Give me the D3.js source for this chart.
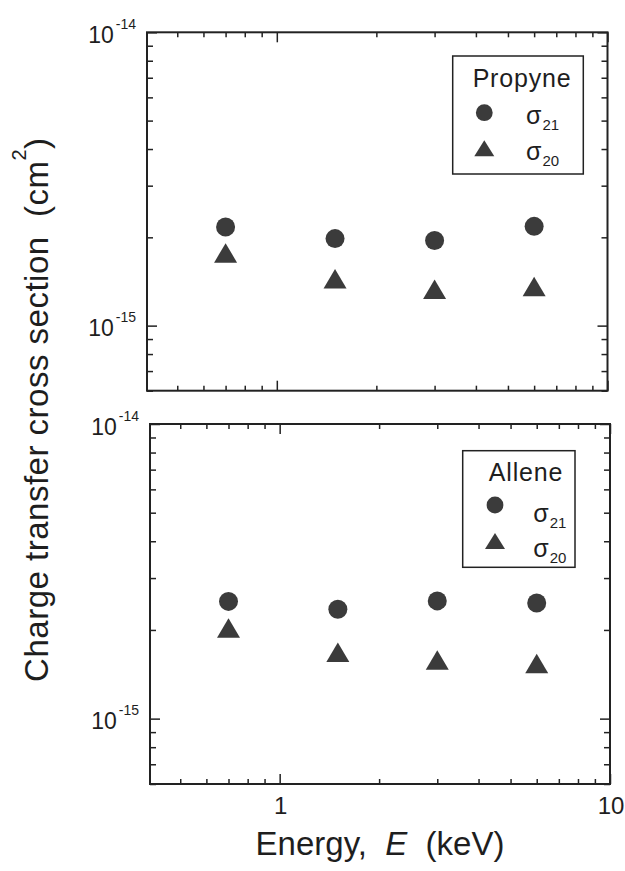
<!DOCTYPE html>
<html><head><meta charset="utf-8">
<script src="https://cdn.jsdelivr.net/npm/d3@7"></script>
<style>
body{margin:0;background:#fff}
text{font-family:"Liberation Sans",Arial,sans-serif;fill:#1e1e1e}
</style>
</head><body>
<svg id="chart" width="625" height="871"></svg>
<script>
// ---- data ----
const energy = [0.7, 1.5, 3, 6];
const gases = ["Propyne", "Allene"];
const sigma21 = [
  [2.17e-15, 1.98e-15, 1.95e-15, 2.18e-15],
  [2.50e-15, 2.35e-15, 2.51e-15, 2.47e-15]
];
const sigma20 = [
  [1.77e-15, 1.445e-15, 1.33e-15, 1.36e-15],
  [2.03e-15, 1.68e-15, 1.58e-15, 1.54e-15]
];
const seriesSubs = ["21", "20"];
const xDomain = [0.405, 10];
const yDomain = [6e-16, 1e-14];
const xMajor = [1, 10];
const xMinor = [0.5, 0.6, 0.7, 0.8, 0.9, 2, 3, 4, 5, 6, 7, 8, 9];
const xTickLabels = ["1", "10"];
const yMajor = [1e-15, 1e-14];
const yMinor = [6e-16, 7e-16, 8e-16, 9e-16, 2e-15, 3e-15, 4e-15, 5e-15, 6e-15, 7e-15, 8e-15, 9e-15];
const yTitle = ["Charge transfer cross section  (cm", "2", ")"];
const xTitle = ["Energy,  ", "E", "  (keV)"];

// ---- layout ----
const panels = [
  {l:147, r:607.5, t:32.3, b:390.7,
   leg:{x:452.7, y:56, w:130.6, h:118, tx:69.3, ty:31.3, mx:31.6, c1:56.7, c2:92.3, sx:73.3, s1:68, s2:104}},
  {l:150, r:610, t:424, b:784,
   leg:{x:462.7, y:450.7, w:112.3, h:116.6, tx:63.3, ty:30, mx:32.3, c1:54.3, c2:90.3, sx:70.6, s1:71, s2:106}}
];
const ink = "#222", markFill = "#3b3b3b";
const tri = (w, h) => `M0,${-h/2}L${w/2},${h/2}L${-w/2},${h/2}Z`;

const svg = d3.select("#chart");

panels.forEach((p, i) => {
  const x = d3.scaleLog().domain(xDomain).range([p.l, p.r]);
  const y = d3.scaleLog().domain(yDomain).range([p.b, p.t]);
  const g = svg.append("g");

  const styleAxis = sel => {
    sel.select(".domain").remove();
    sel.selectAll(".tick line").attr("stroke", ink).attr("stroke-width", 1.5);
    sel.selectAll(".tick text").remove();
  };
  const axes = [
    [d3.axisBottom, `translate(0,${p.b})`, x],
    [d3.axisTop, `translate(0,${p.t})`, x],
    [d3.axisLeft, `translate(${p.l},0)`, y],
    [d3.axisRight, `translate(${p.r},0)`, y]
  ];
  axes.forEach(([fn, tr, sc]) => {
    const isX = sc === x;
    g.append("g").attr("transform", tr)
      .call(fn(sc).tickValues(isX ? xMajor : yMajor).tickSize(-10).tickFormat(""))
      .call(styleAxis);
    g.append("g").attr("transform", tr)
      .call(fn(sc).tickValues(isX ? xMinor : yMinor).tickSize(isX ? -5 : -6).tickFormat(""))
      .call(styleAxis);
  });

  // frame
  g.append("rect").attr("x", p.l).attr("y", p.t)
    .attr("width", p.r - p.l).attr("height", p.b - p.t)
    .attr("fill", "none").attr("stroke", ink).attr("stroke-width", 2);

  // y tick labels
  yMajor.forEach(v => {
    const t = g.append("text").attr("x", p.l - 11).attr("y", y(v) + 10.5)
      .attr("text-anchor", "end").style("font-size", "23px");
    t.append("tspan").text("10");
    t.append("tspan").attr("dx", 2).attr("dy", -14).style("font-size", "14px")
      .text(String(Math.round(Math.log10(v))));
  });

  // x tick labels (bottom panel only)
  if (i === panels.length - 1) {
    xMajor.forEach((v, k) => {
      g.append("text").attr("x", x(v) + 1).attr("y", p.b + 29.5)
        .attr("text-anchor", "middle").style("font-size", "24px").text(xTickLabels[k]);
    });
  }

  // data
  g.selectAll(".c21").data(energy.map((e, k) => [e, sigma21[i][k]]))
    .join("circle").attr("cx", d => x(d[0])).attr("cy", d => y(d[1]))
    .attr("r", 9.5).attr("fill", markFill);
  g.selectAll(".t20").data(energy.map((e, k) => [e, sigma20[i][k]]))
    .join("path").attr("d", tri(23, 19.5))
    .attr("transform", d => `translate(${x(d[0])},${y(d[1])})`).attr("fill", markFill);

  // legend
  const L = p.leg;
  const lg = g.append("g").attr("transform", `translate(${L.x},${L.y})`);
  lg.append("rect").attr("width", L.w).attr("height", L.h)
    .attr("fill", "#fff").attr("stroke", ink).attr("stroke-width", 1.5);
  lg.append("text").attr("x", L.tx).attr("y", L.ty).attr("text-anchor", "middle")
    .style("font-size", "25px").style("letter-spacing", "0.8px").text(gases[i]);
  lg.append("circle").attr("cx", L.mx).attr("cy", L.c1).attr("r", 8.4).attr("fill", markFill);
  lg.append("path").attr("d", tri(20, 16))
    .attr("transform", `translate(${L.mx},${L.c2})`).attr("fill", markFill);
  [L.s1, L.s2].forEach((sy, k) => {
    const t = lg.append("text").attr("x", L.sx).attr("y", sy).style("font-size", "25px");
    t.append("tspan").text("\u03C3");
    t.append("tspan").attr("dx", 1).attr("dy", 6).style("font-size", "15px").text(seriesSubs[k]);
  });
});

// y title
const yt = svg.append("text")
  .attr("transform", `translate(48.3,${(panels[0].t + panels[1].b) / 2 + 1.5}) rotate(-90)`)
  .attr("text-anchor", "middle").attr("xml:space", "preserve").style("white-space", "pre")
  .style("font-size", "33px").style("letter-spacing", "0.5px");
yt.append("tspan").text(yTitle[0]);
yt.append("tspan").attr("dy", -22).style("font-size", "20px").text(yTitle[1]);
yt.append("tspan").attr("dy", 22).text(yTitle[2]);

// x title
const xt = svg.append("text")
  .attr("x", (panels[1].l + panels[1].r) / 2).attr("y", 855)
  .attr("text-anchor", "middle").attr("xml:space", "preserve").style("white-space", "pre")
  .style("font-size", "33px");
xt.append("tspan").text(xTitle[0]);
xt.append("tspan").style("font-style", "italic").text(xTitle[1]);
xt.append("tspan").text(xTitle[2]);
</script>
</body></html>
